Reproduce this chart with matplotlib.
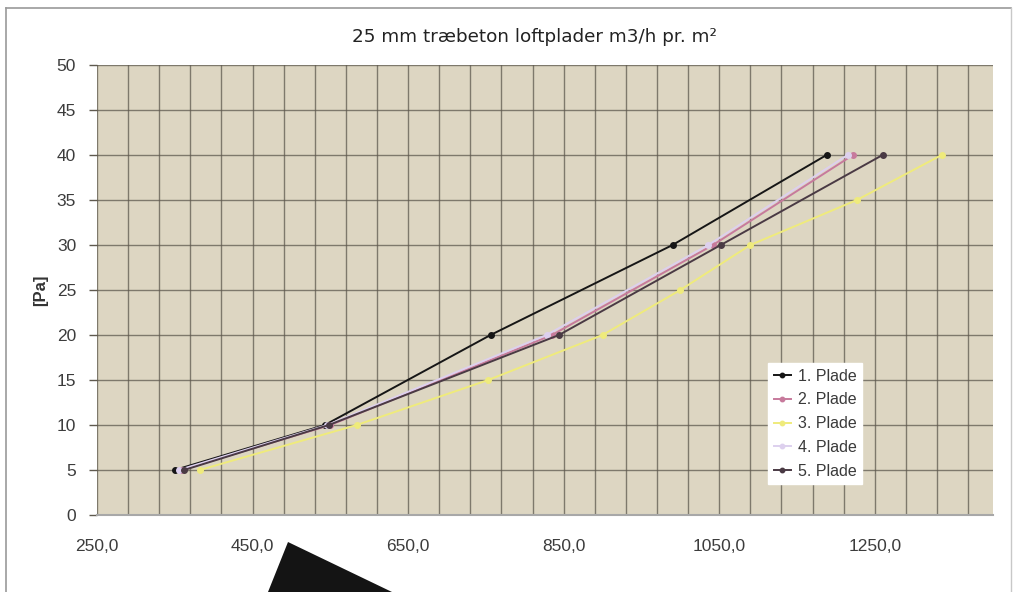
import matplotlib

matplotlib.use("Agg")
import matplotlib.pyplot as plt
from matplotlib.lines import Line2D
from matplotlib.patches import Polygon
from matplotlib.ticker import MultipleLocator, FuncFormatter

# --- data: flow (m3/h pr. m2) vs pressure [Pa] per plate ------------------------------------------
labels = ["1. Plade", "2. Plade", "3. Plade", "4. Plade", "5. Plade"]
colors = ["#161616", "#c77a9c", "#efeb7c", "#ddd0ee", "#4a3a44"]

p1_flow = [350, 543, 756, 990, 1188]
p1_pa = [5, 10, 20, 30, 40]
p2_flow = [358, 550, 835, 1042, 1222]
p2_pa = [5, 10, 20, 30, 40]
p3_flow = [382, 584, 753, 900, 1000, 1090, 1227, 1336]
p3_pa = [5, 10, 15, 20, 25, 30, 35, 40]
p4_flow = [355, 546, 828, 1036, 1215]
p4_pa = [5, 10, 20, 30, 40]
p5_flow = [362, 548, 844, 1052, 1260]
p5_pa = [5, 10, 20, 30, 40]

series = [(p1_flow, p1_pa), (p2_flow, p2_pa), (p3_flow, p3_pa), (p4_flow, p4_pa), (p5_flow, p5_pa)]
x_ticks = [250, 450, 650, 850, 1050, 1250]

W, H = 1019, 592
fig = plt.figure(figsize=(W / 100, H / 100), dpi=100)
fig.patch.set_facecolor("white")

# photo frame edges
fig.add_artist(Line2D([6 / W, 6 / W], [0, 1 - 8 / H], color="#9a9a9a", lw=1.2))
fig.add_artist(Line2D([6 / W, 1011 / W], [1 - 8 / H, 1 - 8 / H], color="#9a9a9a", lw=1.2))
fig.add_artist(Line2D([1011 / W, 1011 / W], [0, 1 - 8 / H], color="#c8c8c8", lw=1.0))

ax = fig.add_axes([97 / W, 1 - 515 / H, (993 - 97) / W, (515 - 65) / H])
ax.set_facecolor("#ddd6c2")

draw_order = [2, 3, 1, 4, 0]
for i in draw_order:
    xs, ys = series[i]
    ax.plot(xs, ys, color=colors[i], lw=1.4, marker="o", ms=4, label=labels[i], zorder=3 + i * 0.1)

ax.set_xlim(250, 1402)
ax.set_ylim(0, 50)
ax.set_xticks(x_ticks)
ax.xaxis.set_minor_locator(MultipleLocator(40, offset=250))
ax.yaxis.set_major_locator(MultipleLocator(5))
ax.xaxis.set_major_formatter(FuncFormatter(lambda v, _: f"{v:.1f}".replace(".", ",")))
ax.grid(which="both", color="#5f5a4f", lw=1.0, alpha=0.75)
ax.set_axisbelow(True)
for s in ["top", "right", "left"]:
    ax.spines[s].set_visible(False)
ax.spines["bottom"].set_color("#a8a8a8")
ax.spines["bottom"].set_linewidth(1.5)

ax.tick_params(axis="x", which="both", length=0, pad=17)
ax.tick_params(axis="y", length=6, width=1, color="#5f5a4f", pad=9)
for lab in ax.get_xticklabels() + ax.get_yticklabels():
    lab.set_fontfamily("Liberation Sans")
    lab.set_fontsize(12.5)
    lab.set_color("#3c3c3c")

ax.set_ylabel("[Pa]", fontfamily="Liberation Sans", fontsize=12, fontweight="bold", color="#333333", labelpad=6)

handles, labs = ax.get_legend_handles_labels()
order = [labs.index(l) for l in labels]
leg = ax.legend([handles[k] for k in order], [labs[k] for k in order],
                loc="upper left", bbox_to_anchor=((768 - 97) / 896, (515 - 363) / 450),
                borderaxespad=0, frameon=True, fancybox=False, framealpha=1,
                prop={"family": "Liberation Sans", "size": 11.5}, labelspacing=0.55,
                handlelength=1.1, handletextpad=0.4, borderpad=0.35, markerscale=0.8)
leg.get_frame().set_edgecolor("#ffffff")
for t in leg.get_texts():
    t.set_color("#3a3a3a")

fig.text(534 / W, 1 - 37 / H, "25 mm træbeton loftplader m3/h pr. m²", ha="center", va="center",
         fontfamily="DejaVu Sans", fontsize=13.2, color="#222222")

# dark paper corner lying over the print
fig.add_artist(Polygon([(288 / W, 1 - 542 / H), (268 / W, 0), (392 / W, 0)], closed=True,
                       facecolor="#141414", edgecolor="none", transform=fig.transFigure))

fig.savefig("out.png", dpi=100)
